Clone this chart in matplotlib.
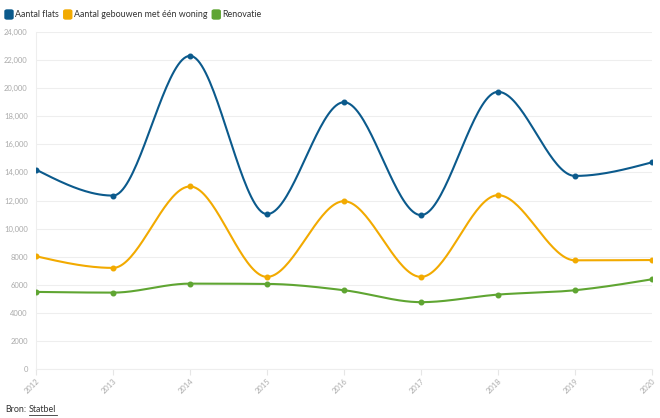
import numpy as np
import matplotlib
matplotlib.use("Agg")
import matplotlib.pyplot as plt
from matplotlib.patches import FancyBboxPatch

years = [2012, 2013, 2014, 2015, 2016, 2017, 2018, 2019, 2020]
flats = [14200, 12350, 22300, 11030, 19000, 10960, 19740, 13750, 14720]
eengezins = [8030, 7200, 13000, 6560, 11950, 6560, 12380, 7740, 7760]
renovatie = [5490, 5440, 6080, 6060, 5610, 4760, 5300, 5610, 6390]

series_names = ["Aantal flats", "Aantal gebouwen met één woning", "Renovatie"]
series_colors = ["#0b5a8c", "#f2aa00", "#5fa532"]
yticks = list(range(0, 24001, 2000))


def monotone_x(x, y, n=40):
    # same idea as d3.curveMonotoneX
    x = np.asarray(x, float)
    y = np.asarray(y, float)
    h = np.diff(x)
    s = np.diff(y) / h
    t = np.zeros(len(x))
    for i in range(1, len(x) - 1):
        p = (s[i - 1] * h[i] + s[i] * h[i - 1]) / (h[i - 1] + h[i])
        t[i] = (np.sign(s[i - 1]) + np.sign(s[i])) * min(abs(s[i - 1]), abs(s[i]), 0.5 * abs(p))
    t[0] = (3 * s[0] - t[1]) / 2
    t[-1] = (3 * s[-1] - t[-2]) / 2
    xs, ys = [], []
    for i in range(len(x) - 1):
        u = np.linspace(0, 1, n)
        h00 = 2 * u**3 - 3 * u**2 + 1
        h10 = u**3 - 2 * u**2 + u
        h01 = -2 * u**3 + 3 * u**2
        h11 = u**3 - u**2
        xs.append(x[i] + u * h[i])
        ys.append(h00 * y[i] + h10 * h[i] * t[i] + h01 * y[i + 1] + h11 * h[i] * t[i + 1])
    return np.concatenate(xs), np.concatenate(ys)


plt.rcParams['font.family'] = ['Lato', 'DejaVu Sans']

fig = plt.figure(figsize=(6.6, 4.18), dpi=100)
ax = fig.add_axes([36 / 660, 1 - 369 / 418, 616 / 660, 337 / 418])

for data, name, col in zip([flats, eengezins, renovatie], series_names, series_colors):
    sx, sy = monotone_x(years, data)
    ax.plot(sx, sy, color=col, lw=1.5, solid_capstyle='round', zorder=3)
    ax.plot(years, data, 'o', color=col, ms=3.3, zorder=4)

ax.set_xlim(2012, 2020)
ax.set_ylim(0, 24000)
ax.set_yticks(yticks)
ax.set_yticklabels([f"{v:,}" if v >= 10000 else str(v) for v in yticks])
ax.set_xticks(years)
ax.set_xticklabels([str(y) for y in years], rotation=45, ha='right', rotation_mode='anchor')
ax.grid(axis='y', color='#eeeeee', lw=0.8)
ax.set_axisbelow(True)
for side in ['top', 'right']:
    ax.spines[side].set_visible(False)
ax.spines['left'].set_color('#eeeeee')
ax.spines['bottom'].set_color('#eeeeee')
ax.tick_params(axis='y', length=0, pad=6, labelsize=5.5, labelcolor='#aaaaaa')
ax.tick_params(axis='x', length=4, color='#e6e6e6', pad=2, labelsize=5.5, labelcolor='#aaaaaa')

# legend at the top
lx = 5
for name, col in zip(series_names, series_colors):
    fig.patches.append(FancyBboxPatch((lx / 660, 1 - 19 / 418), 8 / 660, 9 / 418,
                                      boxstyle="round,pad=0,rounding_size=0.003",
                                      transform=fig.transFigure, color=col))
    t = fig.text((lx + 10) / 660, 1 - 14.5 / 418, name, fontsize=6.4, color='#333333', va='center')
    fig.canvas.draw()
    bb = t.get_window_extent()
    lx = bb.x1 + 5

t1 = fig.text(5 / 660, 1 - 410 / 418, "Bron:", fontsize=6.4, color='#333333', va='center')
fig.canvas.draw()
bb = t1.get_window_extent()
t2 = fig.text((bb.x1 + 3) / 660, 1 - 410 / 418, "Statbel", fontsize=6.4, color='#333333', va='center')
fig.canvas.draw()
b2 = t2.get_window_extent()
fig.add_artist(plt.Line2D([b2.x0 / 660, b2.x1 / 660], [1 - 415 / 418, 1 - 415 / 418],
                          transform=fig.transFigure, color='#333333', lw=0.6))

fig.savefig("out.png", dpi=100)
